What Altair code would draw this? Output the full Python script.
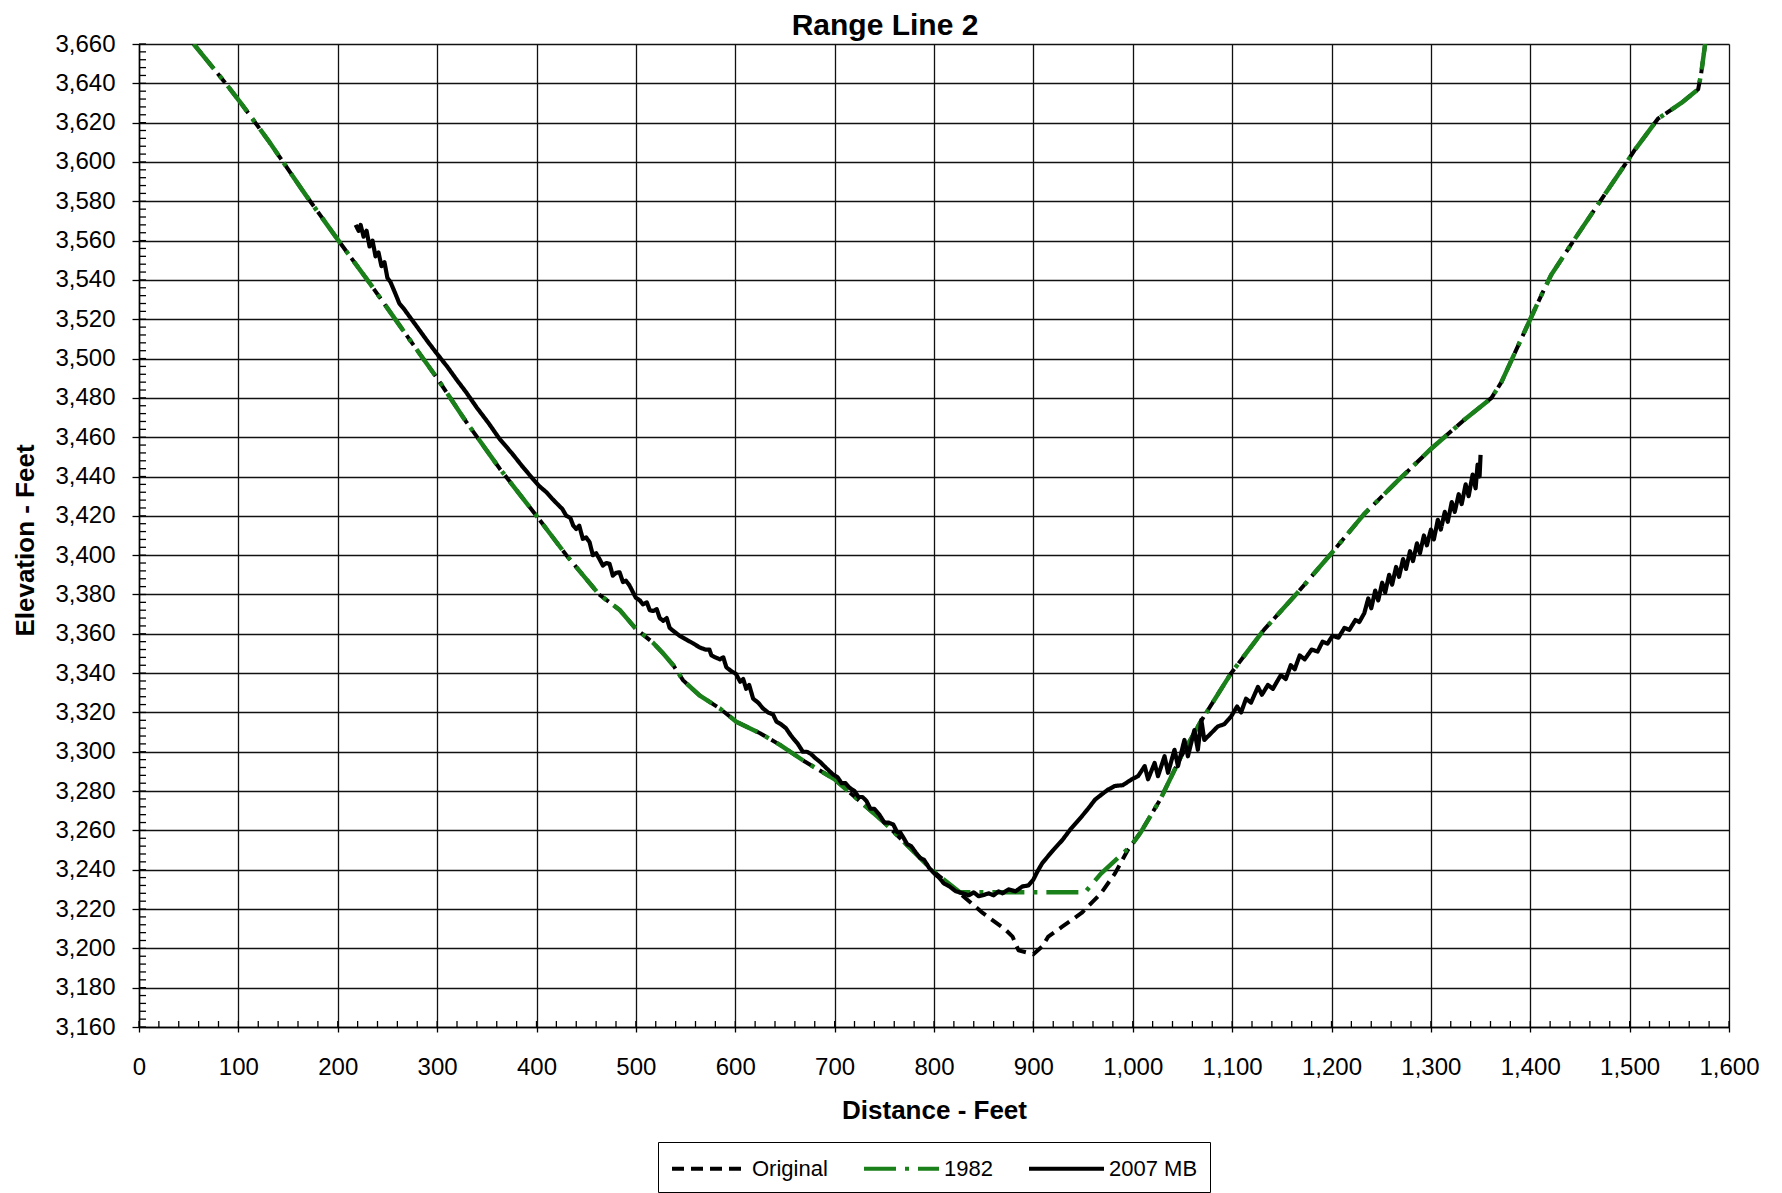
import altair as alt
import pandas as pd

# ---------------- data ----------------
orig_x = [55, 84, 101, 130, 168, 200, 232, 262, 300, 329, 363, 400, 430, 463, 484, 500,
          517, 527.5, 537.6, 547.6, 564, 584.5, 601, 625, 645, 670, 700, 750, 800, 826,
          849, 872, 879, 885, 900, 909, 915, 929, 948.5, 968, 982, 995, 1008, 1028, 1048,
          1068, 1099, 1132, 1166, 1200, 1233, 1267, 1300, 1334, 1361, 1371, 1400, 1411,
          1421, 1445, 1465, 1485, 1498, 1505, 1528.5, 1552, 1569, 1572, 1576]
orig_y = [3660, 3642, 3631, 3611, 3583, 3560.5, 3538.5, 3517, 3490, 3468, 3444, 3420, 3400,
          3380, 3372, 3362.5, 3355.6, 3350, 3344, 3336.3, 3328.7, 3322, 3315.3, 3309.4,
          3303.5, 3295, 3286, 3264, 3239, 3228, 3218, 3209.5, 3206, 3199, 3197, 3201, 3206,
          3211, 3218, 3228, 3238, 3250, 3259, 3276, 3297, 3315, 3340, 3362, 3381, 3401,
          3421, 3438, 3454, 3469, 3480, 3488, 3520, 3532, 3542.5, 3561, 3576, 3591, 3600.6,
          3606, 3622, 3630, 3637, 3645, 3660]

s1982_x = [55, 84, 101, 130, 168, 200, 232, 262, 300, 329, 363, 400, 430, 463, 484, 500,
           517, 527.5, 537.6, 547.6, 564, 584.5, 601, 625, 645, 670, 700, 750, 800, 826,
           952, 968, 998, 1008, 1028, 1048, 1068, 1099, 1132, 1166, 1200, 1233, 1267, 1300,
           1334, 1361, 1371, 1400, 1411, 1421, 1445, 1465, 1485, 1498, 1505, 1528.5, 1552,
           1569, 1572, 1576]
s1982_y = [3660, 3642, 3631, 3611, 3583, 3560.5, 3538.5, 3517, 3490, 3468, 3444, 3420, 3400,
           3380, 3372, 3362.5, 3355.6, 3350, 3344, 3336.3, 3328.7, 3322, 3315.3, 3309.4,
           3303.5, 3295, 3286, 3264, 3239, 3228.5, 3228.5, 3238, 3252, 3259, 3276, 3297,
           3315, 3340, 3362, 3381, 3401, 3421, 3438, 3454, 3469, 3480, 3488, 3520, 3532,
           3542.5, 3561, 3576, 3591, 3600.6, 3606, 3622, 3630, 3637, 3645, 3660]

mb_x = [218, 221, 223, 226, 229, 232, 235, 238, 241, 244, 247, 250, 253, 258, 262, 267, 272,
        280, 290, 299, 310, 320, 329, 340, 352, 363, 375, 386, 396, 403, 410, 416, 421, 426,
        430, 434, 437, 440, 443, 446.6, 450, 453.4, 456.7, 460, 463.4, 466.8, 470, 473.5,
        476.8, 480, 483.6, 487, 490, 493.6, 497, 500, 504, 507, 511, 514, 517.4, 521, 524,
        527.5, 531, 534, 537.6, 544, 551, 558, 564.4, 570, 574, 576, 580, 584.5, 588, 591,
        596, 600.6, 605, 608, 611, 614, 618, 623, 628, 633, 638, 641.5, 646, 651, 655, 658,
        663, 668, 672, 676, 680, 685, 691, 698.5, 703, 707, 711, 715, 720, 724, 728, 732,
        736, 740, 745, 750, 754, 759, 763, 766, 769, 773, 777, 782, 786, 790, 795, 800, 805,
        810, 815.6, 822, 829, 835, 840, 845, 849, 855, 860, 865, 869, 875, 882, 889, 895,
        900, 904, 909, 915, 920, 929, 938, 948.5, 955, 962, 968, 975, 982, 990, 999,
        1005.4, 1012, 1015.4, 1022, 1025.4, 1032, 1035.5, 1042, 1045.5, 1052, 1055.5, 1062,
        1065.5, 1069, 1072, 1079, 1085.6, 1092, 1099, 1105, 1109, 1114, 1119, 1126, 1130,
        1136, 1141, 1149, 1154, 1159, 1163, 1168, 1173, 1180, 1186, 1191, 1196, 1201, 1207,
        1213, 1218, 1224, 1228, 1233, 1237, 1240, 1244, 1247, 1251, 1254, 1258, 1261, 1265,
        1268, 1272, 1275, 1279, 1282, 1286, 1289, 1293, 1296, 1300, 1303, 1307, 1310, 1314,
        1317, 1321, 1324, 1328, 1331, 1335, 1338, 1342, 1345, 1347, 1349, 1350]
mb_y = [3568, 3565, 3568, 3562, 3565, 3557, 3560, 3552, 3554, 3547, 3549, 3541, 3539, 3533,
        3528, 3525, 3521.5, 3516, 3509, 3503, 3496, 3489, 3483, 3475, 3467, 3459, 3452, 3445,
        3439, 3435, 3432, 3428.6, 3426, 3423.5, 3420, 3419, 3415, 3413.3, 3415, 3408.3, 3409,
        3406.6, 3400, 3401, 3398, 3394.7, 3396, 3395.6, 3389.6, 3391, 3391.3, 3386.3, 3387,
        3384.6, 3381.2, 3378.3, 3377, 3375, 3376, 3372, 3371.6, 3372.5, 3368, 3366.6, 3368,
        3363, 3361.5, 3359, 3357, 3355, 3353, 3352, 3352, 3349, 3348, 3347, 3348, 3343, 3341,
        3339.7, 3335.6, 3337, 3332, 3334, 3327, 3325, 3322, 3320, 3319, 3315.3, 3314, 3312,
        3309, 3307, 3304, 3300, 3300, 3299, 3297, 3295, 3292, 3288.4, 3287, 3284, 3284,
        3281.7, 3280, 3277, 3277, 3275, 3271, 3271, 3268, 3264, 3264, 3263, 3259, 3259,
        3256.5, 3253, 3252, 3248.5, 3246, 3245, 3241, 3238.3, 3236, 3233, 3231.5, 3229, 3228,
        3227, 3228.5, 3226.5, 3227, 3228, 3227, 3229, 3228, 3230, 3229, 3231.5, 3232, 3235,
        3239, 3243.4, 3247, 3250, 3255, 3261, 3267, 3271, 3275.6, 3278, 3280.7, 3282.6, 3283,
        3286, 3287.6, 3292.7, 3286, 3294.3, 3287.6, 3297.7, 3289.3, 3301, 3292.7, 3306,
        3297.7, 3311, 3301, 3316.2, 3306, 3309.5, 3312.9, 3314, 3318, 3323, 3320, 3327, 3325,
        3333, 3329, 3334, 3332, 3339, 3337, 3344, 3342, 3349, 3347, 3352, 3351, 3356, 3355,
        3359, 3358, 3363, 3362, 3367, 3366, 3370.5, 3378, 3373, 3382, 3377, 3386, 3381, 3390,
        3385, 3394, 3389, 3398, 3393, 3402, 3397, 3406, 3401, 3410, 3405, 3413, 3408, 3418,
        3413, 3422, 3417, 3427, 3422, 3431, 3426, 3436, 3430, 3441, 3434, 3446, 3440, 3451]

series_names = ["Original", "1982", "2007 MB"]
series_colors = ["#000000", "#1a801a", "#000000"]
series_dash = [[12, 7], [32, 9, 4, 9], [1, 0]]

x_ticks = list(range(0, 1601, 100))
y_ticks = list(range(3160, 3661, 20))
x_minor = list(range(0, 1601, 20))
y_minor = list(range(3160, 3661, 4))

# ---------------- layout ----------------
W, H = 1590, 983
FONT = "Liberation Sans"

df_orig = pd.DataFrame({"x": orig_x, "y": orig_y, "series": "Original"})
df_82 = pd.DataFrame({"x": s1982_x, "y": s1982_y, "series": "1982"})
df_mb = pd.DataFrame({"x": mb_x, "y": mb_y, "series": "2007 MB"})

legend = alt.Legend(
    orient="none", legendX=519, legendY=1098, direction="horizontal", columns=3,
    symbolType="M-1,0H5", symbolSize=625, symbolStrokeWidth=4,
    labelFontSize=22, labelFont=FONT, labelColor="black", labelOffset=53,
    strokeColor="black", fillColor="white", padding=12, columnPadding=28,
)

x_axis = alt.Axis(
    values=x_ticks, format=",.0f", title="Distance - Feet",
    grid=True, gridColor="#111111", gridWidth=1.3,
    tickColor="black", tickSize=5, tickWidth=1.3,
    labelPadding=23, labelFontSize=24, labelFont=FONT, labelColor="black",
    labelFlush=False, labelOverlap=False,
    titleFont=FONT, titleFontSize=26, titleFontWeight="bold", titleColor="black",
    titleX=W / 2, titleY=83, titleAlign="center", titleBaseline="middle",
    domainColor="black", domainWidth=1.5,
)
y_axis = alt.Axis(
    values=y_ticks, format=",.0f", title="Elevation - Feet",
    grid=True, gridColor="#111111", gridWidth=1.3,
    tickColor="black", tickSize=7, tickWidth=1.3,
    labelPadding=17, labelFontSize=24, labelFont=FONT, labelColor="black",
    labelFlush=False, labelOverlap=False,
    titleFont=FONT, titleFontSize=26, titleFontWeight="bold", titleColor="black",
    titleX=-114, titleY=496, titleAngle=-90, titleAlign="center", titleBaseline="middle",
    domainColor="black", domainWidth=1.5,
)
x_scale = alt.Scale(domain=[0, 1600], nice=False, zero=False)
y_scale = alt.Scale(domain=[3160, 3660], nice=False, zero=False)

x_enc = alt.X("x:Q", scale=x_scale, axis=x_axis)
y_enc = alt.Y("y:Q", scale=y_scale, axis=y_axis)

color_enc = alt.Color("series:N", title=None,
                      scale=alt.Scale(domain=series_names, range=series_colors),
                      legend=legend)
dash_enc = alt.StrokeDash("series:N", title=None,
                          scale=alt.Scale(domain=series_names, range=series_dash),
                          legend=legend)


def line_layer(df, width):
    return alt.Chart(df).mark_line(strokeWidth=width, clip=True, strokeCap="butt",
                                   strokeJoin="round").encode(
        x=x_enc, y=y_enc, color=color_enc, strokeDash=dash_enc
    )


l_orig = line_layer(df_orig, 4.0)
l_82 = line_layer(df_82, 4.5)
l_mb = line_layer(df_mb, 4.2)

xm = alt.Chart(pd.DataFrame({"x": x_minor})).mark_rule(color="black", strokeWidth=1.3).encode(
    x=x_enc, y=alt.value(H - 6), y2=alt.value(H)
)
ym = alt.Chart(pd.DataFrame({"y": y_minor})).mark_rule(color="black", strokeWidth=1.3).encode(
    y=y_enc, x=alt.value(0), x2=alt.value(7)
)

chart = alt.layer(l_orig, l_82, l_mb, xm, ym).properties(
    width=W, height=H,
    title=alt.TitleParams("Range Line 2", font=FONT, fontSize=30, fontWeight="bold",
                          color="black", anchor="middle", frame="group", dx=-49,
                          dy=40, offset=7, baseline="alphabetic"),
    padding={"left": 131, "top": 36, "right": 30, "bottom": 170},
    autosize=alt.AutoSizeParams(type="none"),
).configure_view(stroke="black", strokeWidth=1.5).configure(background="white")

chart.save("out.html", embed_options={"renderer": "svg", "actions": False})
